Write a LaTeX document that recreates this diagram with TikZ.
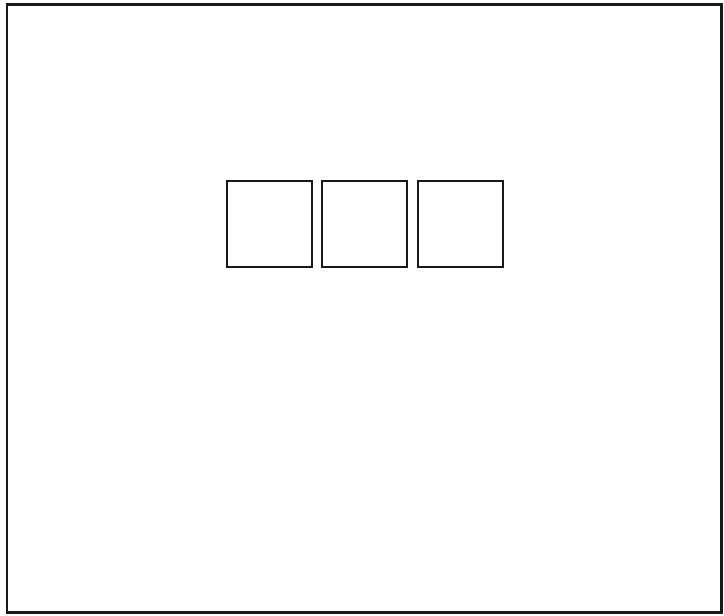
\documentclass[tikz,border=0pt]{standalone}
\begin{document}
\begin{tikzpicture}[x=1pt,y=-1pt,
  frame/.style={draw=black!90,line width=2.6pt},
  cell/.style={draw=black!90,line width=2.2pt,minimum width=85pt,minimum height=86pt,inner sep=0pt,anchor=north west}]
\useasboundingbox (0,0) rectangle (724,616);
\draw[frame] (7,4.5) rectangle (721.5,612.5);
\node[cell] (a) at (225.5,180) {};
\node[cell] (b) at (321,180) {};
\node[cell] (c) at (416.5,180) {};
\end{tikzpicture}
\end{document}
